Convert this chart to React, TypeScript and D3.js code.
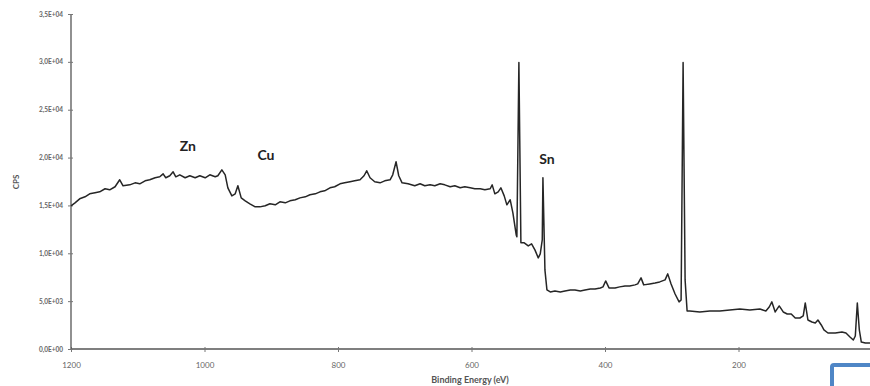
import React, { useEffect, useRef } from 'react';
import * as d3 from 'd3';

// XPS survey spectrum
const energy = [
  1200, 1194, 1187, 1179, 1172, 1164, 1157, 1149, 1142, 1134, 1127, 1122, 1112, 1104, 1097, 1089,
  1082, 1074, 1067, 1062, 1058, 1052, 1047, 1043, 1037, 1029, 1022, 1014, 1007, 999, 992, 984,
  980, 974, 969, 965, 959, 954, 950, 945, 939, 932, 924, 917, 909, 902, 894, 887,
  879, 872, 864, 857, 849, 842, 834, 827, 820, 812, 805, 797, 790, 782, 775, 767,
  761, 757, 752, 745, 737, 730, 722, 718, 713, 709, 704, 695, 685, 677, 670, 662,
  655, 647, 640, 632, 625, 617, 610, 602, 595, 587, 580, 572, 569, 565, 560, 556,
  551, 547, 542, 538, 533, 532, 529, 526, 521, 515, 510, 505, 500, 497, 494, 493,
  490, 487, 482, 475, 467, 460, 452, 445, 437, 430, 422, 415, 407, 403, 399, 394,
  385, 378, 370, 363, 355, 351, 346, 342, 333, 325, 318, 310, 306, 301, 295, 289,
  286, 283, 280, 277, 273, 258, 243, 228, 213, 198, 183, 168, 159, 154, 150, 145,
  139, 133, 127, 121, 115, 108, 103, 100, 96, 90, 85, 81, 76, 72, 66, 55,
  45, 39, 33, 28, 25, 22, 19, 16, 10, 3,
];
const counts = [
  14960, 15270, 15690, 15900, 16210, 16320, 16420, 16740, 16630, 16950, 17680, 17050, 17150, 17360, 17260, 17570,
  17680, 17890, 17990, 18300, 17890, 18100, 18510, 17990, 18200, 17890, 18100, 17890, 18100, 17890, 18200, 17990,
  18100, 18720, 18200, 16840, 16000, 16210, 17050, 15790, 15480, 15170, 14850, 14850, 14960, 15170, 15060, 15380,
  15270, 15480, 15590, 15790, 15900, 16110, 16210, 16420, 16530, 16840, 16950, 17260, 17360, 17470, 17570, 17680,
  18100, 18620, 17890, 17470, 17360, 17570, 17680, 18200, 19560, 18100, 17360, 17260, 17050, 17260, 17050, 17150,
  17050, 17260, 17150, 16950, 17050, 16840, 16950, 16840, 16740, 16740, 16630, 16740, 17150, 16210, 16420, 16840,
  16000, 15060, 15590, 14230, 11920, 11720, 29920, 11090, 11090, 10770, 10980, 10360, 9520, 9940, 11400, 17890,
  8260, 6170, 5960, 6070, 5960, 6070, 6170, 6170, 6070, 6170, 6280, 6280, 6380, 6490, 7110, 6380,
  6380, 6490, 6590, 6590, 6700, 6800, 7430, 6700, 6800, 6900, 7010, 7220, 7850, 6800, 5750, 4920,
  5120, 29920, 7220, 3970, 3970, 3870, 3970, 3970, 4080, 4180, 4080, 4180, 3970, 4390, 4920, 3870,
  4500, 3870, 3660, 3660, 3240, 3240, 3450, 4810, 3030, 2820, 2720, 3030, 2510, 1990, 1670, 1670,
  1780, 1670, 1260, 940, 1360, 4810, 1990, 730, 630, 630,
];

// the 0 tick falls just outside the cropped picture
const xTicks = [1200, 1000, 800, 600, 400, 200];
const yTicks = [0, 5000, 10000, 15000, 20000, 25000, 30000, 35000];

const peakLabels = [
  { text: 'Zn', ev: 1025, cps: 20700 },
  { text: 'Cu', ev: 908, cps: 19700 },
  { text: 'Sn', ev: 487, cps: 19300 },
];

const fmtSci = (v: number) => {
  const [m, e] = v.toExponential(1).split('e');
  const exp = parseInt(e, 10);
  const sign = exp < 0 ? '-' : '+';
  return `${m.replace('.', ',')}E${sign}${String(Math.abs(exp)).padStart(2, '0')}`;
};

const Spectrum: React.FC = () => {
  const svgRef = useRef<SVGSVGElement>(null);

  useEffect(() => {
    if (!svgRef.current) return;
    const svg = d3.select(svgRef.current);
    svg.selectAll('*').remove();

    const x = d3.scaleLinear().domain([1200, 0]).range([71, 872]);
    const y = d3.scaleLinear().domain([0, 35000]).range([349, 14]);
    const font = 'Lato, "Open Sans", sans-serif';

    // axes
    const xAxis = svg.append('g')
      .attr('transform', `translate(0,${y(0)})`)
      .call(d3.axisBottom(x).tickValues(xTicks).tickSize(3).tickFormat(d3.format('d')));
    xAxis.select('.domain').attr('stroke', '#555').attr('stroke-width', 1.3).attr('d', `M${x(1200)},0H870`);
    xAxis.selectAll('.tick line').attr('stroke', '#777').attr('y1', -2).attr('y2', 3);
    xAxis.selectAll('.tick text')
      .attr('y', 13).attr('fill', '#666').style('font-size', '8px').style('font-family', font);

    const yAxis = svg.append('g')
      .attr('transform', `translate(${x(1200)},0)`)
      .call(d3.axisLeft(y).tickValues(yTicks).tickSize(3).tickFormat((d) => fmtSci(+d)));
    yAxis.select('.domain').attr('stroke', '#555').attr('stroke-width', 1.3).attr('d', `M0,${y(0)}V${y(35000)}`);
    yAxis.selectAll('.tick line').attr('stroke', '#777').attr('x1', 2).attr('x2', -3);
    yAxis.selectAll('.tick text')
      .attr('x', -8).attr('fill', '#666').style('font-size', '6.5px').style('font-family', font)
      .style('font-weight', '700');

    // spectrum line
    const pts = energy.map((e, i) => [e, counts[i]] as [number, number]);
    svg.append('path')
      .datum(pts)
      .attr('fill', 'none')
      .attr('stroke', '#262626')
      .attr('stroke-width', 1.5)
      .attr('stroke-linejoin', 'round')
      .attr('d', d3.line<[number, number]>().x((d) => x(d[0])).y((d) => y(d[1])));

    // element labels
    svg.selectAll('text.peak')
      .data(peakLabels)
      .join('text')
      .attr('class', 'peak')
      .attr('x', (d) => x(d.ev))
      .attr('y', (d) => y(d.cps))
      .attr('text-anchor', 'middle')
      .attr('fill', '#222')
      .style('font-family', font)
      .style('font-size', '14px')
      .style('font-weight', '700')
      .text((d) => d.text);

    // axis titles
    svg.append('text')
      .attr('x', 470).attr('y', 383)
      .attr('text-anchor', 'middle')
      .attr('fill', '#555')
      .style('font-family', font).style('font-size', '9px').style('font-weight', '700')
      .text('Binding Energy (eV)');
    svg.append('text')
      .attr('transform', 'translate(19,182) rotate(-90)')
      .attr('text-anchor', 'middle')
      .attr('fill', '#555')
      .style('font-family', font).style('font-size', '8px').style('font-weight', '700')
      .text('CPS');

    // blue selection box in the bottom right corner of the screenshot
    svg.append('rect')
      .attr('x', 832).attr('y', 365).attr('width', 60).attr('height', 40)
      .attr('rx', 2)
      .attr('fill', '#fff')
      .attr('stroke', '#4f86c6')
      .attr('stroke-width', 4);
  }, []);

  return (
    <svg ref={svgRef} width={870} height={386}
      style={{ position: 'absolute', left: 0, top: 0, background: '#fff' }} />
  );
};

export default function App() {
  return <Spectrum />;
}
